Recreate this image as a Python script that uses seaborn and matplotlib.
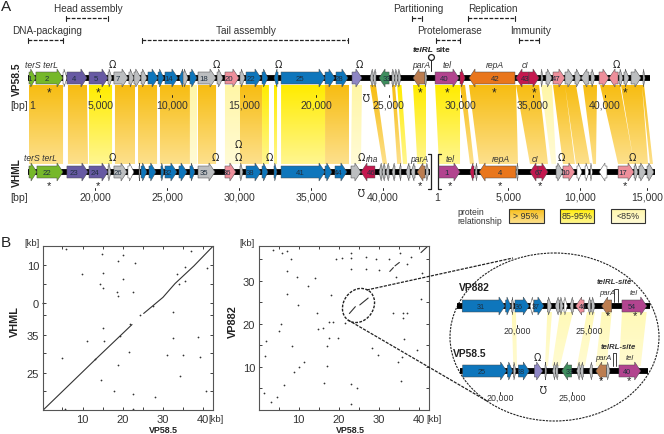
"""
Comparative genome map of VP58.5 / VHML / VP882 with dot plots.
"""

import matplotlib.pyplot as plt
import numpy as np
import seaborn as sns
from matplotlib.colors import LinearSegmentedColormap
from matplotlib.patches import Ellipse, Polygon, Rectangle
from matplotlib.path import Path


sns.set_theme(style='white')
plt.rcParams['font.family'] = ['Liberation Sans', 'DejaVu Sans']

WIDTH, HEIGHT = 664, 435
PX_PER_KB = 14.42

# Gene colours by functional group
KIND_COLOURS = {
    'pack': '#76B82A', 'head': '#675AA3', 'tail': '#0E76BC', 'grey': '#BCBEC0',
    'white': '#FFFFFF', 'pink': '#EE8F9B', 'red': '#C4184F', 'brown': '#BC7D50',
    'orange': '#E9761C', 'tel': '#B2448F', 'lav': '#8E86C4', 'teal': '#3E8E5E',
}

# Genes: start kb, end kb (end < start means reverse strand), group, number
VP585_GENES = [
    (0.07, 0.55, 'pack', '1'), (0.55, 2.43, 'pack', '2'), (2.43, 2.70, 'white', ''),
    (2.70, 4.09, 'head', '4'), (4.23, 5.55, 'head', '5'), (5.55, 5.83, 'grey', ''),
    (5.96, 6.94, 'grey', '7'), (7.00, 7.35, 'grey', ''), (7.35, 7.84, 'grey', ''),
    (7.84, 8.25, 'grey', ''), (8.32, 9.02, 'tail', ''), (9.02, 9.43, 'tail', ''),
    (9.50, 10.40, 'tail', '14'), (10.82, 10.47, 'tail', ''), (10.75, 11.10, 'grey', ''),
    (11.23, 11.72, 'tail', ''), (11.79, 13.04, 'grey', '18'), (13.11, 13.52, 'grey', ''),
    (13.66, 14.63, 'pink', '20'), (14.70, 15.05, 'grey', ''), (15.12, 16.16, 'tail', '22'),
    (16.23, 16.64, 'tail', ''), (17.34, 17.06, 'tail', ''), (17.55, 20.60, 'tail', '25'),
    (20.60, 21.29, 'tail', ''), (21.36, 22.19, 'tail', '28'), (22.47, 23.16, 'lav', ''),
    (23.93, 23.72, 'grey', ''), (24.13, 23.93, 'grey', ''), (25.04, 24.34, 'teal', '33'),
    (25.24, 25.45, 'grey', ''), (25.45, 25.66, 'grey', ''), (25.66, 25.87, 'grey', ''),
    (27.53, 26.70, 'brown', ''), (27.53, 27.67, 'grey', ''), (28.23, 29.89, 'tel', '40'),
    (29.96, 30.31, 'red', ''), (33.77, 30.58, 'orange', '42'), (34.74, 33.84, 'red', '43'),
    (34.74, 35.44, 'red', ''), (35.58, 35.72, 'grey', ''), (35.92, 36.34, 'grey', ''),
    (36.41, 37.24, 'pink', '47'), (37.24, 37.86, 'grey', ''), (37.93, 38.35, 'grey', ''),
    (38.90, 38.35, 'grey', ''), (39.04, 39.32, 'grey', ''), (39.60, 40.29, 'pink', ''),
    (40.92, 40.29, 'pink', ''), (40.99, 41.26, 'grey', ''), (41.33, 41.68, 'grey', ''),
    (41.82, 42.51, 'grey', ''), (42.65, 42.79, 'grey', ''),
]

# VHML positions are given on the aligned map scale of panel A
VHML_GENES = [
    (0.07, 0.62, 'pack', ''), (0.62, 2.43, 'pack', '22'), (2.70, 4.16, 'head', '23'),
    (4.23, 5.55, 'head', '24'), (5.55, 5.76, 'grey', ''), (5.96, 6.87, 'grey', '26'),
    (6.93, 7.35, 'white', ''), (7.70, 7.77, 'white', ''), (7.84, 8.25, 'tail', ''),
    (8.39, 8.88, 'tail', ''), (9.22, 9.43, 'tail', ''), (9.50, 10.33, 'tail', '32'),
    (10.47, 11.03, 'tail', ''), (11.23, 11.58, 'tail', ''), (11.79, 12.97, 'grey', '35'),
    (13.66, 14.42, 'pink', '36'), (14.70, 14.91, 'grey', ''), (15.12, 16.16, 'tail', '38'),
    (16.23, 16.64, 'tail', ''), (17.06, 17.27, 'tail', ''), (17.55, 20.60, 'tail', '41'),
    (20.60, 21.08, 'tail', ''), (21.29, 22.12, 'tail', '44'), (22.40, 23.09, 'grey', ''),
    (24.06, 23.09, 'red', '46'), (24.55, 24.34, 'grey', ''), (24.76, 24.55, 'grey', ''),
    (25.04, 24.83, 'grey', ''), (25.45, 25.24, 'grey', ''), (25.87, 25.73, 'grey', ''),
    (26.49, 26.21, 'grey', ''), (26.84, 26.56, 'grey', ''), (27.53, 26.98, 'brown', ''),
    (27.60, 27.81, 'grey', ''), (28.50, 29.96, 'tel', '1'), (30.93, 30.65, 'red', ''),
    (31.14, 31.00, 'grey', ''), (33.84, 31.28, 'orange', '4'), (33.98, 33.84, 'grey', ''),
    (35.37, 34.81, 'red', '6'), (35.37, 36.06, 'red', '7'), (36.62, 37.10, 'grey', ''),
    (37.10, 37.93, 'pink', '10'), (38.07, 38.42, 'white', ''), (38.63, 38.90, 'white', ''),
    (39.00, 39.14, 'white', ''), (40.15, 39.60, 'white', ''), (40.92, 42.03, 'pink', '17'),
    (42.03, 42.30, 'grey', ''), (42.37, 42.86, 'grey', ''), (42.93, 43.41, 'grey', ''),
]

VP882_INSET_GENES = [
    (16.20, 19.17, 'tail', '31'), (19.21, 19.58, 'tail', ''), (19.63, 19.79, 'grey', ''),
    (19.86, 20.85, 'tail', '36'), (21.13, 20.90, 'white', ''), (21.18, 21.87, 'tail', '37'),
    (22.10, 22.41, 'grey', ''), (22.93, 22.64, 'grey', ''), (22.98, 23.21, 'grey', ''),
    (23.26, 23.49, 'white', ''), (23.90, 23.67, 'grey', ''), (24.65, 24.07, 'pink', '46'),
    (25.11, 24.88, 'grey', ''), (25.18, 25.41, 'grey', ''), (26.57, 25.87, 'brown', ''),
    (27.28, 29.00, 'tel', '54'),
]

VP585_INSET_GENES = [
    (17.41, 20.46, 'tail', '25'), (20.51, 20.88, 'tail', ''), (20.92, 21.11, 'grey', ''),
    (21.27, 22.03, 'tail', '28'), (22.38, 22.96, 'lav', ''), (23.12, 23.24, 'grey', ''),
    (23.83, 23.65, 'grey', ''), (24.02, 23.83, 'grey', ''), (24.97, 24.28, 'teal', '33'),
    (25.55, 25.32, 'grey', ''), (25.78, 25.55, 'grey', ''), (26.40, 26.19, 'grey', ''),
    (27.40, 26.64, 'brown', ''), (27.40, 27.63, 'grey', ''), (28.25, 29.76, 'tel', '40'),
]

# Homologous regions: VP58.5 start, end -> VHML start, end, relationship class
RIBBONS = [
    (0.07, 2.43, 0.07, 2.43, 'high'), (2.77, 4.09, 2.77, 4.16, 'high'),
    (4.23, 5.83, 4.23, 5.83, 'mid'), (6.03, 7.42, 6.03, 7.42, 'high'),
    (7.63, 8.95, 7.63, 8.95, 'high'), (9.15, 11.23, 9.15, 11.23, 'high'),
    (11.23, 11.72, 11.23, 11.72, 'low'), (11.79, 13.04, 11.79, 13.04, 'high'),
    (13.66, 14.70, 13.66, 14.70, 'low'), (14.70, 16.23, 14.70, 16.23, 'high'),
    (16.23, 16.71, 16.23, 16.71, 'mid'), (17.06, 17.27, 17.06, 17.27, 'mid'),
    (17.55, 20.60, 17.55, 20.60, 'mid'), (20.60, 22.26, 20.60, 22.26, 'high'),
    (22.47, 23.16, 22.40, 23.09, 'low'), (23.72, 24.13, 24.60, 24.90, 'high'),
    (25.24, 25.45, 25.60, 25.90, 'high'), (25.60, 25.90, 26.00, 26.30, 'mid'),
    (26.70, 27.60, 27.00, 27.60, 'mid'), (28.23, 29.96, 28.50, 29.96, 'mid'),
    (29.96, 30.31, 30.65, 30.93, 'high'), (30.58, 33.84, 31.28, 33.98, 'high'),
    (33.84, 35.44, 34.81, 36.06, 'high'), (35.58, 36.34, 36.30, 36.62, 'low'),
    (36.41, 37.24, 37.10, 37.93, 'high'), (37.24, 38.00, 38.00, 38.97, 'high'),
    (38.49, 39.46, 39.18, 39.39, 'high'), (39.67, 41.05, 40.92, 42.03, 'high'),
    (41.12, 42.58, 42.03, 43.00, 'high'), (42.58, 42.72, 43.13, 43.34, 'high'),
]

RIBBON_COLOURS = {
    'high': ('#F7BD12', '#FDE08C'),
    'mid': ('#FFEC00', '#FFF690'),
    'low': ('#FFF6A6', '#FFFBD6'),
}

# Functional ranges above the map: label, start kb, end kb, level
MODULES = [
    ('DNA-packaging', 0.00, 2.45, 1), ('Head assembly', 2.61, 5.52, 0),
    ('Tail assembly', 7.88, 22.20, 1), ('Partitioning', 26.62, 27.32, 0),
    ('Protelomerase', 28.30, 29.98, 1), ('Replication', 30.51, 33.75, 0),
    ('Immunity', 34.03, 35.45, 1),
]

TICKS_TOP = [5.0, 10.0, 15.0, 20.0, 25.0, 30.0, 35.0, 40.0]
TICK_LABELS_TOP = ['5,000', '10,000', '15,000', '20,000', '25,000', '30,000', '35,000', '40,000']
TICKS_BOTTOM = [4.65, 9.65, 14.64, 19.64, 24.6, 33.3, 38.3, 42.95]
TICK_LABELS_BOTTOM = ['20,000', '25,000', '30,000', '35,000', '40,000', '5,000', '10,000', '15,000']

STARS_TOP = [1.45, 4.88, 27.2, 29.05, 32.29, 35.07, 41.4]
STARS_BOTTOM = [1.45, 4.85, 27.2, 29.25, 32.73, 35.5, 41.4]
LOOPS_TOP = [5.87, 13.04, 17.38, 23.0, 40.8]
LOOPS_BOTTOM = [5.87, 13.0, 14.6, 16.7, 23.1, 37.0, 41.9]

# Dot plot VP58.5 vs VHML (VHML axis runs as a concatenated position)
VHML_DOT_X = [5.8, 14.9, 18.7, 20.0, 23.1, 37.1, 41.0, 35.4, 9.9, 15.2, 20.0, 14.3, 15.2, 18.5, 18.8,
              22.5, 33.5, 33.9, 35.4, 32.4, 15.2, 11.0, 15.3, 19.3, 21.7, 24.2, 27.4, 21.5, 4.9, 31.0,
              34.9, 39.3, 32.5, 38.7, 18.9, 14.7, 34.3, 17.7, 22.5, 27.9, 40.8, 22.5, 5.6, 13.1, 0.2, 0.05]
VHML_DOT_Y = [42.1, 40.8, 39.0, 40.4, 38.4, 41.5, 37.1, 37.4, 35.4, 35.8, 34.1, 33.0, 31.9, 30.9, 29.7,
              30.9, 35.4, 32.8, 33.7, 25.6, 21.5, 18.0, 18.0, 19.3, 22.5, 24.7, 27.1, 15.2, 13.7, 14.3,
              14.3, 13.9, 18.9, 19.0, 11.7, 7.8, 9.0, 5.0, 4.3, 3.5, 5.0, 0.3, 0.2, 13.2, 27.8, 27.9]
VHML_LINE_X = [0.2, 7.0, 13.1, 19.0, 22.3]
VHML_LINE_Y = [0.0, 6.9, 13.1, 19.0, 22.3]
VHML_LINE2_X = [25.2, 30.0, 33.0, 37.7, 42.5]
VHML_LINE2_Y = [25.2, 29.4, 33.0, 37.6, 42.8]
VHML_YTICKS = [5.0, 9.74, 15.0, 19.7, 24.9, 27.8, 33.0, 37.8]
VHML_YLABELS = ['', '25', '', '35', '', '0', '', '10']

# Dot plot VP58.5 vs VP882
VP882_DOT_X = [3.7, 5.75, 7.0, 8.0, 7.0, 9.5, 14.1, 12.4, 7.0, 9.9, 18.0, 19.3, 20.9, 23.0, 23.0, 23.1,
               26.8, 29.3, 32.7, 35.3, 38.1, 26.8, 30.1, 37.0, 34.3, 40.8, 40.6, 14.7, 5.6, 5.2, 1.8,
               1.6, 8.25, 16.2, 14.9, 17.6, 18.7, 17.7, 19.9, 17.0, 11.3, 10.2, 8.8, 17.2, 16.3, 6.3,
               1.4, 4.7, 3.0, 23.1, 24.7, 23.1, 29.9, 28.3, 21.6, 33.5, 36.0, 37.2, 36.2, 36.3, 39.5,
               35.8, 34.9, 35.6]
VP882_DOT_Y = [37.2, 36.4, 37.0, 35.0, 32.3, 30.9, 30.6, 28.8, 26.9, 24.4, 26.7, 35.0, 35.4, 36.4, 35.4, 32.8,
               35.6, 35.2, 35.2, 36.4, 35.6, 32.8, 32.6, 33.9, 30.8, 31.9, 25.7, 22.6, 19.9, 18.4, 16.0,
               12.6, 14.9, 19.1, 18.8, 20.5, 20.5, 16.8, 16.8, 14.9, 11.2, 10.0, 8.7, 10.1, 6.2, 5.8,
               4.0, 2.9, 1.9, 6.0, 5.0, 1.3, 12.8, 14.3, 20.3, 22.6, 22.6, 22.6, 21.3, 16.4, 14.0,
               12.3, 11.0, 6.7]
VP882_SEG_X = [(40.6, 42.2), (32.8, 33.7), (34.1, 35.2), (22.7, 24.2), (25.3, 27.4)]
VP882_SEG_Y = [(36.6, 38.0), (32.2, 33.1), (33.5, 34.3), (22.4, 24.0), (24.4, 26.0)]

# Pale homology bands in the enlarged view, as drawn between the two tracks
INSET_TOP_X = [(511.7, 516), (547.3, 552), (560, 573), (587, 595), (601.7, 611.7), (622, 646.7)]
INSET_BOTTOM_X = [(513.3, 517), (545, 548), (552, 560), (577, 585), (595.7, 606.7), (619, 640.7)]

PROTEIN_CLASSES = ['> 95%', '85-95%', '<85%']
PROTEIN_KEYS = ['high', 'mid', 'low']


def map_axes(figure: plt.Figure, offset: float, order: int) -> plt.Axes:
    """Full-figure axes with x in kb (shifted by offset pixels) and y in pixels."""
    axis = figure.add_axes([0, 0, 1, 1], zorder=order)
    axis.set_xlim(-offset / PX_PER_KB, (WIDTH - offset) / PX_PER_KB)
    axis.set_ylim(HEIGHT, 0)
    axis.axis('off')
    return axis


def draw_genes(axis: plt.Axes, genes: list, track_y: float, size: float = 5.6) -> None:
    """Draws each gene as an arrow polygon pointing along its strand."""
    for start, end, kind, label in genes:
        length = abs(end - start)
        sign = 1 if end > start else -1
        head = min(0.42, length * 0.75)
        neck = end - sign * head
        points = [(start, track_y - 6), (neck, track_y - 6), (neck, track_y - 9), (end, track_y),
                  (neck, track_y + 9), (neck, track_y + 6), (start, track_y + 6)]
        axis.add_patch(Polygon(points, closed=True, facecolor=KIND_COLOURS[kind],
                               edgecolor='#4A4A4A', linewidth=0.35, zorder=3))
        if label:
            axis.text((start + neck) / 2, track_y + 0.3, label, fontsize=size, color='#1F2F3F',
                      ha='center', va='center', zorder=4)


def draw_backbone(axis: plt.Axes, start: float, end: float, track_y: float) -> None:
    """Draws the black genome line."""
    sns.lineplot(x=[start, end], y=[track_y, track_y], color='black', linewidth=4.2,
                 solid_capstyle='butt', ax=axis, zorder=2, errorbar=None, sort=False)


def gradient_fill(axis: plt.Axes, polygons: list, colours: tuple, top: float, bottom: float) -> None:
    """Fills the polygons with one vertical colour gradient."""
    cmap = LinearSegmentedColormap.from_list('ribbon', colours)
    xlim, ylim = axis.get_xlim(), axis.get_ylim()
    image = axis.imshow(np.linspace(0, 1, 64).reshape(-1, 1), cmap=cmap, aspect='auto',
                        extent=(xlim[0], xlim[1], bottom, top), zorder=1, interpolation='bilinear')
    closed = [Path(list(poly) + [poly[0]], closed=False) for poly in polygons]
    image.set_clip_path(Path.make_compound_path(*closed), transform=axis.transData)
    axis.set_xlim(xlim)
    axis.set_ylim(ylim)


def style_dotplot(axis: plt.Axes) -> None:
    """Box with ticks pointing inwards on every side, as in the gnuplot dot plots."""
    axis.tick_params(which='both', direction='in', top=True, right=True, bottom=True, left=True,
                     length=2, width=0.6, color='#222222', labelsize=8, labelcolor='#333333', pad=3)
    for spine in axis.spines.values():
        spine.set_color('#555555')
        spine.set_linewidth(0.8)
    axis.set_xlabel('')
    axis.set_ylabel('')


figure = plt.figure(figsize=(WIDTH / 100, HEIGHT / 100), dpi=100, facecolor='white')

####################
## Dot plots (B)  ##
####################

ax_vhml = figure.add_axes([43.2 / WIDTH, 1 - 411 / HEIGHT, 170 / WIDTH, 164 / HEIGHT], zorder=1)
sns.scatterplot(x=VHML_DOT_X, y=VHML_DOT_Y, s=1.6, color='#333333', linewidth=0, ax=ax_vhml, clip_on=False)
sns.lineplot(x=VHML_LINE_X, y=VHML_LINE_Y, color='#333333', linewidth=0.8, ax=ax_vhml, errorbar=None, sort=False)
sns.lineplot(x=VHML_LINE2_X, y=VHML_LINE2_Y, color='#333333', linewidth=0.8, ax=ax_vhml, errorbar=None, sort=False)
ax_vhml.set_xlim(0.2, 42.5)
ax_vhml.set_ylim(0, 42.8)
ax_vhml.set_xticks([10, 20, 30, 40])
ax_vhml.set_xticks([5, 15, 25, 35], minor=True)
ax_vhml.set_yticks(VHML_YTICKS)
ax_vhml.set_yticklabels(VHML_YLABELS)
style_dotplot(ax_vhml)

ax_vp882 = figure.add_axes([259.3 / WIDTH, 1 - 410.7 / HEIGHT, 169.7 / WIDTH, 164 / HEIGHT], zorder=1)
sns.scatterplot(x=VP882_DOT_X, y=VP882_DOT_Y, s=1.6, color='#333333', linewidth=0, ax=ax_vp882)
for seg_x, seg_y in zip(VP882_SEG_X, VP882_SEG_Y):
    sns.lineplot(x=list(seg_x), y=list(seg_y), color='#333333', linewidth=0.8, ax=ax_vp882,
                 errorbar=None, sort=False)
ax_vp882.set_xlim(0.2, 42.6)
ax_vp882.set_ylim(0, 38.2)
ax_vp882.set_xticks([10, 20, 30, 40])
ax_vp882.set_xticks([5, 15, 25, 35], minor=True)
ax_vp882.set_yticks([10, 20, 30])
ax_vp882.set_yticks([5, 15, 25, 35], minor=True)
style_dotplot(ax_vp882)

##################
## Genome map A ##
##################

ax_map = map_axes(figure, 28, 2)

# Homology ribbons run from below one track to above the other
for key, colours in RIBBON_COLOURS.items():
    polys = [[(a, 86), (b, 86), (d, 165), (c, 165)] for a, b, c, d, kind in RIBBONS if kind == key]
    gradient_fill(ax_map, polys, colours, 86, 165)

draw_backbone(ax_map, 0.0, 43.1, 79)
draw_backbone(ax_map, 0.0, 27.9, 173)
draw_backbone(ax_map, 28.5, 43.5, 173)
draw_genes(ax_map, VP585_GENES, 79)
draw_genes(ax_map, VHML_GENES, 173)

for label, start, end, level in MODULES:
    bar_y = 19 if level == 0 else 41
    ax_map.plot([start, end], [bar_y, bar_y], color='#222222', linewidth=0.9, linestyle=(0, (3, 1.2)))
    for cap in (start, end):
        ax_map.plot([cap, cap], [bar_y - 2.5, bar_y + 2.5], color='#222222', linewidth=0.8)
    ax_map.text((start + end) / 2 + 0.1, bar_y - 9.5, label, fontsize=7.2, color='#333333', ha='center', va='center')

for pos, label in zip(TICKS_TOP, TICK_LABELS_TOP):
    ax_map.plot([pos, pos], [95.5, 97.5], color='#222222', linewidth=0.7, zorder=5)
    ax_map.text(pos, 106, label, fontsize=7.6, color='#333333', ha='center', va='center', zorder=5)
for pos, label in zip(TICKS_BOTTOM, TICK_LABELS_BOTTOM):
    ax_map.plot([pos, pos], [188.5, 190.5], color='#222222', linewidth=0.7)
    ax_map.text(pos, 198, label, fontsize=7.6, color='#333333', ha='center', va='center')

ax_map.text(0.3, 106, '1', fontsize=7.6, color='#333333', ha='center', va='center', zorder=5)
ax_map.text(28.4, 198, '1', fontsize=7.6, color='#333333', ha='center', va='center')
ax_map.text(-0.62, 106, '[bp]', fontsize=7.6, color='#333333', ha='center', va='center')
ax_map.text(-0.62, 198, '[bp]', fontsize=7.6, color='#333333', ha='center', va='center')
ax_map.text(-0.75, 79, 'VP58.5', fontsize=7.4, fontweight='bold', color='#222222', rotation=90, ha='center', va='center')
ax_map.text(-0.75, 173, 'VHML', fontsize=7.4, fontweight='bold', color='#222222', rotation=90, ha='center', va='center')

for pos in STARS_TOP:
    ax_map.text(pos, 93, '*', fontsize=8.5, color='#222222', ha='center', va='center', zorder=5)
for pos in STARS_BOTTOM:
    ax_map.text(pos, 186, '*', fontsize=8, color='#222222', ha='center', va='center', zorder=5)

for pos in LOOPS_TOP:
    ax_map.text(pos, 65, 'Ω', fontsize=7, color='#222222', ha='center', va='center', family='DejaVu Sans')
for pos in LOOPS_BOTTOM:
    ax_map.text(pos, 158, 'Ω', fontsize=7, color='#222222', ha='center', va='center', family='DejaVu Sans')
ax_map.text(14.6, 145, 'Ω', fontsize=7, color='#222222', ha='center', va='center', family='DejaVu Sans')
ax_map.text(23.4, 95, 'Ω', fontsize=7, color='#222222', ha='center', va='center', rotation=180, family='DejaVu Sans')
ax_map.text(23.1, 190, 'Ω', fontsize=7, color='#222222', ha='center', va='center', rotation=180, family='DejaVu Sans')

for pos, text_y, label in [(0.9, 65, 'terS terL'), (27.25, 66, 'parA'), (29.05, 66, 'tel'), (32.35, 66, 'repA'),
                           (34.5, 66, 'cI'), (0.85, 159, 'terS terL'), (23.85, 160, 'rha'), (27.15, 160, 'parA'),
                           (29.25, 160, 'tel'), (32.8, 160, 'repA'), (35.15, 160, 'cI')]:
    ax_map.text(pos, text_y, label, fontsize=6.2, style='italic', color='#333333', ha='center', va='center')

# telRL site marker
ax_map.plot([27.95, 27.95], [61, 72], color='#222222', linewidth=0.7)
ax_map.plot([27.95], [58], marker='o', markersize=4.2, markerfacecolor='white', markeredgecolor='#222222', markeredgewidth=0.9)
ax_map.text(28.1, 51, 'telRL', fontsize=6, fontweight='bold', style='italic', color='#222222', ha='right', va='center')
ax_map.text(28.3, 51, 'site', fontsize=6, fontweight='bold', color='#222222', ha='left', va='center')

# Bracket closing the first VHML contig and opening the second
ax_map.plot([27.75, 27.95, 27.95, 27.75], [155, 155, 190, 190], color='#222222', linewidth=0.9)
ax_map.plot([28.65, 28.45, 28.45, 28.65], [155, 155, 190, 190], color='#222222', linewidth=0.9)

##############################
## Callout, legend and tags ##
##############################

ax_px = figure.add_axes([0, 0, 1, 1], zorder=3)
ax_px.set_xlim(0, WIDTH)
ax_px.set_ylim(HEIGHT, 0)
ax_px.axis('off')

ax_px.add_patch(Ellipse((554.5, 338), 209, 168, facecolor='white', edgecolor='#222222', linewidth=0.8,
                        linestyle=(0, (2, 1)), zorder=1))
ax_px.add_patch(Ellipse((358.5, 306.5), 30, 36, angle=35, facecolor='none', edgecolor='#222222', linewidth=1,
                        linestyle=(0, (2, 1)), zorder=2))
ax_px.plot([366.7, 513], [291, 259], color='#222222', linewidth=0.9, linestyle=(0, (2.5, 1)), zorder=2)
ax_px.plot([348, 487], [321, 402], color='#222222', linewidth=0.9, linestyle=(0, (2.5, 1)), zorder=2)

band_polys = [[(a, 313), (b, 313), (d, 367), (c, 367)]
              for (a, b), (c, d) in zip(INSET_TOP_X, INSET_BOTTOM_X)]
gradient_fill(ax_px, band_polys, ('#FFF9B8', '#FFFBD0'), 313, 367)

# Legend of protein relationship classes
for left, key, label in zip([509, 559.5, 610.5], PROTEIN_KEYS, PROTEIN_CLASSES):
    box = [(left, 209.5), (left + 34.5, 209.5), (left + 34.5, 224), (left, 224)]
    gradient_fill(ax_px, [box], RIBBON_COLOURS[key], 209.5, 224)
    ax_px.add_patch(Rectangle((left, 209.5), 34.5, 14.5, facecolor='none', edgecolor='#333333', linewidth=0.8, zorder=3))
    ax_px.text(left + 17.2, 217, label, fontsize=6.4, color='#333333', ha='center', va='center', zorder=4)
ax_px.text(457, 217, 'protein\nrelationship', fontsize=6.2, color='#333333', ha='left', va='center', linespacing=1.05)

ax_px.text(1, 7, 'A', fontsize=11, color='#222222', ha='left', va='center')
ax_px.text(1, 243, 'B', fontsize=11, color='#222222', ha='left', va='center')

ax_px.text(32, 244, '[kb]', fontsize=6.8, color='#333333', ha='center', va='center')
ax_px.text(247, 244, '[kb]', fontsize=6.8, color='#333333', ha='center', va='center')
ax_px.text(216, 420, '[kb]', fontsize=6.8, color='#333333', ha='center', va='center')
ax_px.text(434, 420, '[kb]', fontsize=6.8, color='#333333', ha='center', va='center')
ax_px.text(163, 431, 'VP58.5', fontsize=6.4, fontweight='bold', color='#222222', ha='center', va='center')
ax_px.text(350, 431, 'VP58.5', fontsize=6.4, fontweight='bold', color='#222222', ha='center', va='center')
ax_px.text(15, 322, 'VHML', fontsize=7.8, fontweight='bold', color='#222222', rotation=90, ha='center', va='center')
ax_px.text(233, 322, 'VP882', fontsize=7.8, fontweight='bold', color='#222222', rotation=90, ha='center', va='center')

# Enlarged view of the telRL region
ax_inset_top = map_axes(figure, 228.6, 4)
draw_backbone(ax_inset_top, 15.82, 29.23, 307)
draw_genes(ax_inset_top, VP882_INSET_GENES, 307, size=5.2)
ax_inset_bottom = map_axes(figure, 211.6, 4)
draw_backbone(ax_inset_bottom, 17.24, 30.24, 372)
draw_genes(ax_inset_bottom, VP585_INSET_GENES, 372, size=5.2)

for axis, track_y, offset_y in [(ax_inset_top, 307, 22), (ax_inset_bottom, 372, 24)]:
    for pos, label in zip([20, 25], ['20,000', '25,000']):
        axis.plot([pos, pos], [track_y + offset_y - 3, track_y + offset_y - 1], color='#222222', linewidth=0.7)
        axis.text(pos, track_y + offset_y + 2, label, fontsize=6.4, color='#333333', ha='center', va='center')

ax_px.text(474, 288.5, 'VP882', fontsize=7.4, fontweight='bold', color='#222222', ha='center', va='center', zorder=5)
ax_px.text(470, 354.5, 'VP58.5', fontsize=7.4, fontweight='bold', color='#222222', ha='center', va='center', zorder=5)
for text_x, text_y, label, weight in [(614, 283, 'telRL-site', 'bold'), (607, 294, 'parA', 'normal'), (634, 294, 'tel', 'normal'),
                                      (618, 348, 'telRL-site', 'bold'), (603, 359, 'parA', 'normal'), (630, 359, 'tel', 'normal')]:
    ax_px.text(text_x, text_y, label, fontsize=5.6, style='italic', fontweight=weight, color='#333333', ha='center', va='center', zorder=5)
ax_px.plot([614, 614, 618, 618], [303, 290, 290, 303], color='#222222', linewidth=0.6, zorder=5)
ax_px.plot([613, 613, 616, 616], [367, 354, 354, 367], color='#222222', linewidth=0.6, zorder=5)

for axis, stars, star_y in [(ax_inset_top, [26.3, 28.2], 316), (ax_inset_bottom, [27.0, 28.95], 381)]:
    for pos in stars:
        axis.text(pos, star_y, '*', fontsize=8, color='#222222', ha='center', va='center', zorder=5)
ax_inset_bottom.text(22.6, 358, 'Ω', fontsize=7, color='#222222', ha='center', va='center', family='DejaVu Sans')
ax_inset_bottom.text(23.0, 387, 'Ω', fontsize=7, color='#222222', ha='center', va='center', rotation=180, family='DejaVu Sans')

figure.savefig('out.png', dpi=100)
